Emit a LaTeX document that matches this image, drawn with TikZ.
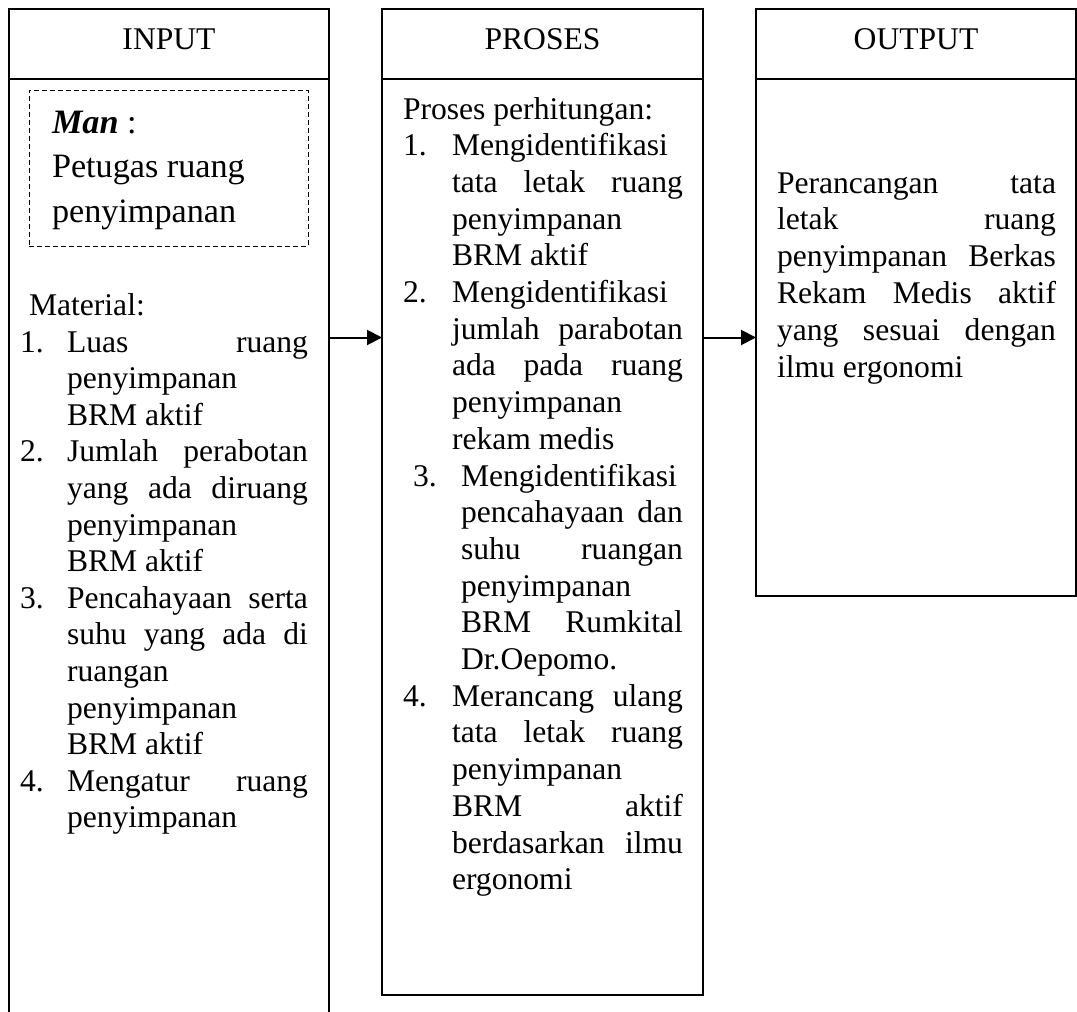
\documentclass[tikz,border=0pt]{standalone}
\usepackage{fontspec}
\setmainfont{Liberation Serif}
\usetikzlibrary{arrows.meta}
\newcommand\jline[2]{\makebox[#1][s]{#2}}
\def\wi{120.5pt}
\def\wp{115.5pt}
\def\wq{111pt}
\def\wo{139.5pt}
\begin{document}
\begin{tikzpicture}[x=0.5pt,y=-0.5pt,
  boxn/.style={draw, line width=1pt, rectangle, inner sep=0pt, outer sep=0pt, anchor=north west},
  dashbox/.style={draw, line width=0.5pt, dash pattern=on 2.5pt off 1.5pt, rectangle, inner sep=0pt, outer sep=0pt, anchor=north west},
  rule/.style={line width=1pt},
  txt/.style={anchor=base west, inner sep=0pt, outer sep=0pt, font=\fontsize{15.8}{19}\selectfont},
  ttl/.style={anchor=base, inner sep=0pt, outer sep=0pt, font=\fontsize{15.8}{19}\selectfont},
  mantxt/.style={anchor=base west, inner sep=0pt, outer sep=0pt, font=\fontsize{17.1}{21}\selectfont},
  arr/.style={line width=1pt, -{Triangle[length=7.5pt,width=7.5pt]}}]
\useasboundingbox (0,0) rectangle (1077,1012);
\clip (0,0) rectangle (1077,1012);

% boxes
\node[boxn, minimum width=160pt, minimum height=515.5pt] (inBox) at (9,9) {};
\node[boxn, minimum width=160.5pt, minimum height=493pt] (prBox) at (382,9) {};
\node[boxn, minimum width=160pt, minimum height=293.5pt] (outBox) at (756,9) {};
\node[dashbox, minimum width=139.5pt, minimum height=78pt] (manBox) at (29,90) {};

% header dividers
\coordinate (hy) at (0,79);
\draw[rule] (inBox.west |- hy) -- (inBox.east |- hy);
\draw[rule] (prBox.west |- hy) -- (prBox.east |- hy);
\draw[rule] (outBox.west |- hy) -- (outBox.east |- hy);

% titles
\node[ttl] (tIn) at (169,49) {INPUT};
\node[ttl] (tPr) at (542.5,49) {PROSES};
\node[ttl] (tOut) at (916,49) {OUTPUT};

% arrows
\coordinate (ay) at (0,337.5);
\draw[arr] (inBox.east |- ay) -- (prBox.west |- ay);
\draw[arr] (prBox.east |- ay) -- (outBox.west |- ay);

% Man box
\node[mantxt] (m1) at (52,133) {{\bfseries\itshape Man} :};
\node[mantxt] (m2) at (52,177.5) {Petugas ruang};
\node[mantxt] (m3) at (52,222.5) {penyimpanan};

% INPUT material
\node[txt] (i0) at (29,315.5) {Material:};
\node[txt] (in1) at (20,352.1) {1.};
\node[txt] (i1) at (67,352.1) {\jline{\wi}{Luas ruang}};
\node[txt] (i2) at (67,388.7) {penyimpanan};
\node[txt] (i3) at (67,425.3) {BRM aktif};
\node[txt] (in2) at (20,461.9) {2.};
\node[txt] (i4) at (67,461.9) {\jline{\wi}{Jumlah perabotan}};
\node[txt] (i5) at (67,498.5) {\jline{\wi}{yang ada diruang}};
\node[txt] (i6) at (67,535.1) {penyimpanan};
\node[txt] (i7) at (67,571.7) {BRM aktif};
\node[txt] (in3) at (20,608.3) {3.};
\node[txt] (i8) at (67,608.3) {\jline{\wi}{Pencahayaan serta}};
\node[txt] (i9) at (67,644.9) {\jline{\wi}{suhu yang ada di}};
\node[txt] (i10) at (67,681.5) {ruangan};
\node[txt] (i11) at (67,718.1) {penyimpanan};
\node[txt] (i12) at (67,754.7) {BRM aktif};
\node[txt] (in4) at (20,791.3) {4.};
\node[txt] (i13) at (67,791.3) {\jline{\wi}{Mengatur ruang}};
\node[txt] (i14) at (67,827.9) {penyimpanan};

% PROSES
\node[txt] (p0) at (403,119) {Proses perhitungan:};
\node[txt] (pn1) at (403,155.7) {1.};
\node[txt] (p1) at (452,155.7) {Mengidentifikasi};
\node[txt] (p2) at (452,192.4) {\jline{\wp}{tata letak ruang}};
\node[txt] (p3) at (452,229.1) {penyimpanan};
\node[txt] (p4) at (452,265.8) {BRM aktif};
\node[txt] (pn2) at (403,302.5) {2.};
\node[txt] (p5) at (452,302.5) {Mengidentifikasi};
\node[txt] (p6) at (452,339.2) {\jline{\wp}{jumlah parabotan}};
\node[txt] (p7) at (452,375.9) {\jline{\wp}{ada pada ruang}};
\node[txt] (p8) at (452,412.6) {penyimpanan};
\node[txt] (p9) at (452,449.3) {rekam medis};
\node[txt] (pn3) at (413,486) {3.};
\node[txt] (p10) at (461,486) {Mengidentifikasi};
\node[txt] (p11) at (461,522.7) {\jline{\wq}{pencahayaan dan}};
\node[txt] (p12) at (461,559.4) {\jline{\wq}{suhu ruangan}};
\node[txt] (p13) at (461,596.1) {penyimpanan};
\node[txt] (p14) at (461,632.8) {\jline{\wq}{BRM Rumkital}};
\node[txt] (p15) at (461,669.5) {Dr.Oepomo.};
\node[txt] (pn4) at (403,706.2) {4.};
\node[txt] (p16) at (452,706.2) {\jline{\wp}{Merancang ulang}};
\node[txt] (p17) at (452,742.9) {\jline{\wp}{tata letak ruang}};
\node[txt] (p18) at (452,779.6) {penyimpanan};
\node[txt] (p19) at (452,816.3) {\jline{\wp}{BRM aktif}};
\node[txt] (p20) at (452,853) {\jline{\wp}{berdasarkan ilmu}};
\node[txt] (p21) at (452,889.7) {ergonomi};

% OUTPUT
\node[txt] (o1) at (777,193) {\jline{\wo}{Perancangan tata}};
\node[txt] (o2) at (777,229.8) {\jline{\wo}{letak ruang}};
\node[txt] (o3) at (777,266.6) {\jline{\wo}{penyimpanan Berkas}};
\node[txt] (o4) at (777,303.4) {\jline{\wo}{Rekam Medis aktif}};
\node[txt] (o5) at (777,340.2) {\jline{\wo}{yang sesuai dengan}};
\node[txt] (o6) at (777,377) {ilmu ergonomi};
\end{tikzpicture}
\end{document}
